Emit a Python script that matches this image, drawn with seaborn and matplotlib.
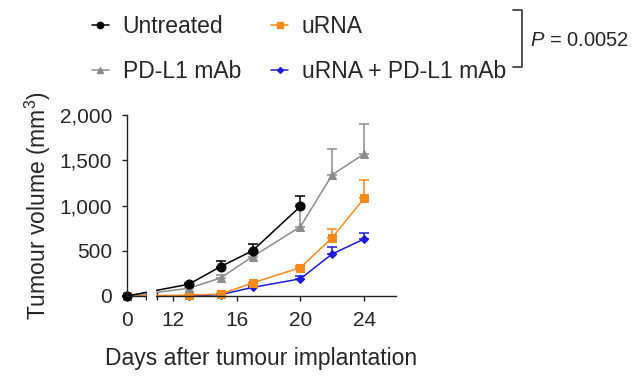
import numpy as np
import pandas as pd
import matplotlib
matplotlib.use("Agg")
import matplotlib.pyplot as plt
import seaborn as sns
from matplotlib.lines import Line2D
from matplotlib.ticker import FuncFormatter

# Tumour volume (mm3), mean and upper SEM
days = [0, 13, 15, 17, 20, 22, 24]
untreated = [0, 130, 325, 500, 990, np.nan, np.nan]
untreated_err = [0, 15, 60, 75, 115, np.nan, np.nan]
pdl1 = [0, 85, 200, 435, 765, 1340, 1570]
pdl1_err = [0, 10, 30, 30, 250, 285, 335]
urna = [0, 10, 20, 145, 313, 645, 1080]
urna_err = [0, 5, 10, 15, 15, 100, 200]
combo = [0, 0, 15, 95, 190, 465, 630]
combo_err = [0, 0, 5, 10, 35, 80, 65]

labels = ["Untreated", "PD-L1 mAb", "uRNA", "uRNA + PD-L1 mAb"]
p_text = "$\\mathit{P}$ = 0.0052"

x_ticks = [0, 12, 16, 20, 24]
x_ticklabels = ["0", "12", "16", "20", "24"]
y_ticks = [0, 500, 1000, 1500, 2000]

# broken x axis: 0..1.2 then 11..26, gap squeezed
brk_lo, brk_hi, gap = 1.2, 11.0, 0.675


def fwd(d):
    return np.interp(d, [-100, brk_lo, brk_hi, 100],
                     [-100, brk_lo, brk_lo + gap, 100 - brk_hi + brk_lo + gap])


def inv(p):
    return np.interp(p, [-100, brk_lo, brk_lo + gap, 100 - brk_hi + brk_lo + gap],
                     [-100, brk_lo, brk_hi, 100])


sns.set_theme(style="ticks")
plt.rcParams["font.family"] = ["Liberation Sans", "DejaVu Sans"]
plt.rcParams["mathtext.fontset"] = "custom"
plt.rcParams["mathtext.rm"] = "Liberation Sans"
plt.rcParams["mathtext.it"] = "Liberation Sans:italic"

fig = plt.figure(figsize=(6.42, 3.81), dpi=100)
ax = fig.add_axes([0.1978, 0.2231, 0.419, 0.475])
ax.set_xscale("function", functions=(fwd, inv))

series = [
    # label, mean, err, colour, marker, size, zorder
    (labels[3], combo, combo_err, "#1c1cd8", "D", 4.2, 2.1),
    (labels[2], urna, urna_err, "#f78a1d", "s", 5.8, 2.2),
    (labels[1], pdl1, pdl1_err, "#8c8c8c", "^", 6.2, 2.3),
    (labels[0], untreated, untreated_err, "#000000", "o", 6.5, 2.4),
]

for name, mean, err, col, mk, ms, z in series:
    df = pd.DataFrame({"day": days, "vol": mean, "err": err}).dropna()
    sns.lineplot(data=df, x="day", y="vol", color=col, marker=mk, markersize=ms,
                 markeredgecolor=col, linewidth=1.1, errorbar=None, ax=ax,
                 zorder=z, clip_on=False, label=name)
    ax.errorbar(df["day"], df["vol"], yerr=[np.zeros(len(df)), df["err"]],
                fmt="none", ecolor=col, elinewidth=1.1, capsize=3.5,
                capthick=1.1, zorder=z - 0.05, clip_on=False)

ax.get_legend().remove()

# white band hides the axis and lines in the break
ax.axvspan(2.1, 10.1, ymin=-0.05, ymax=1.0, color="white", lw=0,
           zorder=3, clip_on=False)

ax.set_xlim(0, 26)
ax.set_ylim(0, 2000)
ax.set_xticks(x_ticks)
ax.set_xticklabels(x_ticklabels)
ax.set_xticks([brk_lo, brk_hi], minor=True)
ax.set_xticklabels(["", ""], minor=True)
ax.set_yticks(y_ticks)
ax.yaxis.set_major_formatter(FuncFormatter(lambda v, p: f"{v:,.0f}"))
ax.tick_params(axis="both", which="major", direction="out", length=3.8,
               width=1.0, labelsize=15, pad=7, color="#222222")
ax.tick_params(axis="x", which="minor", direction="inout", length=6,
               width=1.0, color="#222222")
sns.despine(ax=ax)
for s in ["left", "bottom"]:
    ax.spines[s].set_linewidth(1.0)
    ax.spines[s].set_color("#222222")

ax.set_xlabel("Days after tumour implantation", fontsize=16.5, labelpad=12)
ax.set_ylabel("Tumour volume (mm$^{3}$)", fontsize=16.5, labelpad=5)

# legend, two columns, in column order
leg_handles = []
for name in labels:
    for n, mean, err, col, mk, ms, z in series:
        if n == name:
            leg_handles.append(Line2D([], [], color=col, marker=mk,
                                      markersize=ms * 0.7, markeredgecolor=col,
                                      linewidth=1.1))
fig.legend(leg_handles, labels, ncol=2, loc="upper left",
           bbox_to_anchor=(0.143, 0.96), frameon=False, fontsize=16.5,
           handlelength=0.75, handletextpad=0.6, columnspacing=1.3,
           labelspacing=0.95, borderpad=0, borderaxespad=0)

# bracket and P value
bx, by0, by1 = 522 / 642, 1 - 10 / 381, 1 - 67 / 381
tick_w = 9 / 642
fig.add_artist(Line2D([bx - tick_w, bx, bx, bx - tick_w], [by0, by0, by1, by1],
                      color="#444444", linewidth=1.3))
fig.text(530 / 642, 1 - 40 / 381, p_text, fontsize=14.5, va="center", ha="left")

plt.savefig("out.png", dpi=100)
